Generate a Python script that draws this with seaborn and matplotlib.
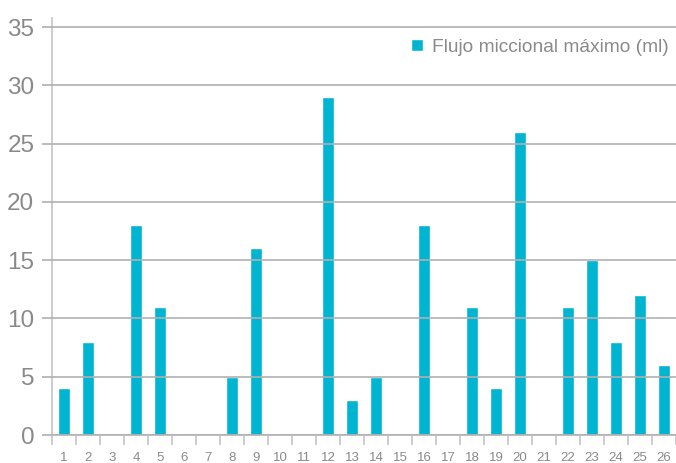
import matplotlib
matplotlib.use("Agg")
import matplotlib.pyplot as plt
import seaborn as sns
import pandas as pd
import numpy as np
from matplotlib.ticker import FixedLocator

categories = [str(i) for i in range(1, 27)]
values = [4, 8, 0, 18, 11, 0, 0, 5, 16, 0, 0, 29, 3, 5, 0, 18, 0, 11, 4, 26, 0, 11, 15, 8, 12, 6]
series_name = "Flujo miccional máximo (ml)"
yticks = [0, 5, 10, 15, 20, 25, 30, 35]

sns.set_theme(style="white")
plt.rcParams['font.family'] = ['Liberation Sans', 'DejaVu Sans']

bar_color = "#00b5d1"
grid_color = "#b0b0b0"
text_color = "#8a8a8a"

df = pd.DataFrame({"cat": categories, "val": values})

fig = plt.figure(figsize=(6.76, 4.63), dpi=100)
ax = fig.add_axes([52/676, (463-435)/463, 1 - 52/676, (435-18)/463])

sns.barplot(data=df, x="cat", y="val", color=bar_color, width=0.46,
            saturation=1, ax=ax, label=series_name, errorbar=None)

ax.set_xlim(-0.5, len(categories) - 0.5)
ax.set_ylim(0, 35 * (435 - 18) / (435 - 27))
ax.set_yticks(yticks)
ax.set_yticklabels([str(v) for v in yticks])
ax.yaxis.grid(True, color=grid_color, linewidth=1.2)
ax.set_axisbelow(False)

for s in ["top", "right", "bottom"]:
    ax.spines[s].set_visible(False)
ax.spines["left"].set_color("#c4c4c4")
ax.spines["left"].set_linewidth(1.2)
ax.axhline(0, color=grid_color, linewidth=1.2, clip_on=False)

ax.tick_params(axis="y", length=7.2, width=1.2, color=grid_color, labelsize=17.5,
               labelcolor=text_color, pad=5.5, left=True)
ax.tick_params(axis="x", which="major", length=0, labelsize=9.5, labelcolor=text_color, pad=12)
ax.xaxis.set_minor_locator(FixedLocator(np.arange(-0.5, len(categories), 1.0)))
ax.tick_params(axis="x", which="minor", length=7.2, width=1.2, color="#c4c4c4", bottom=True)

ax.set_xlabel("")
ax.set_ylabel("")

leg = ax.legend(loc="upper right", bbox_to_anchor=(1.0, 0.968), frameon=False,
                fontsize=13.8, handlelength=0.6, handleheight=0.6, handletextpad=0.45,
                borderaxespad=0.0)
for t in leg.get_texts():
    t.set_color(text_color)

fig.savefig("out.png", dpi=100)
